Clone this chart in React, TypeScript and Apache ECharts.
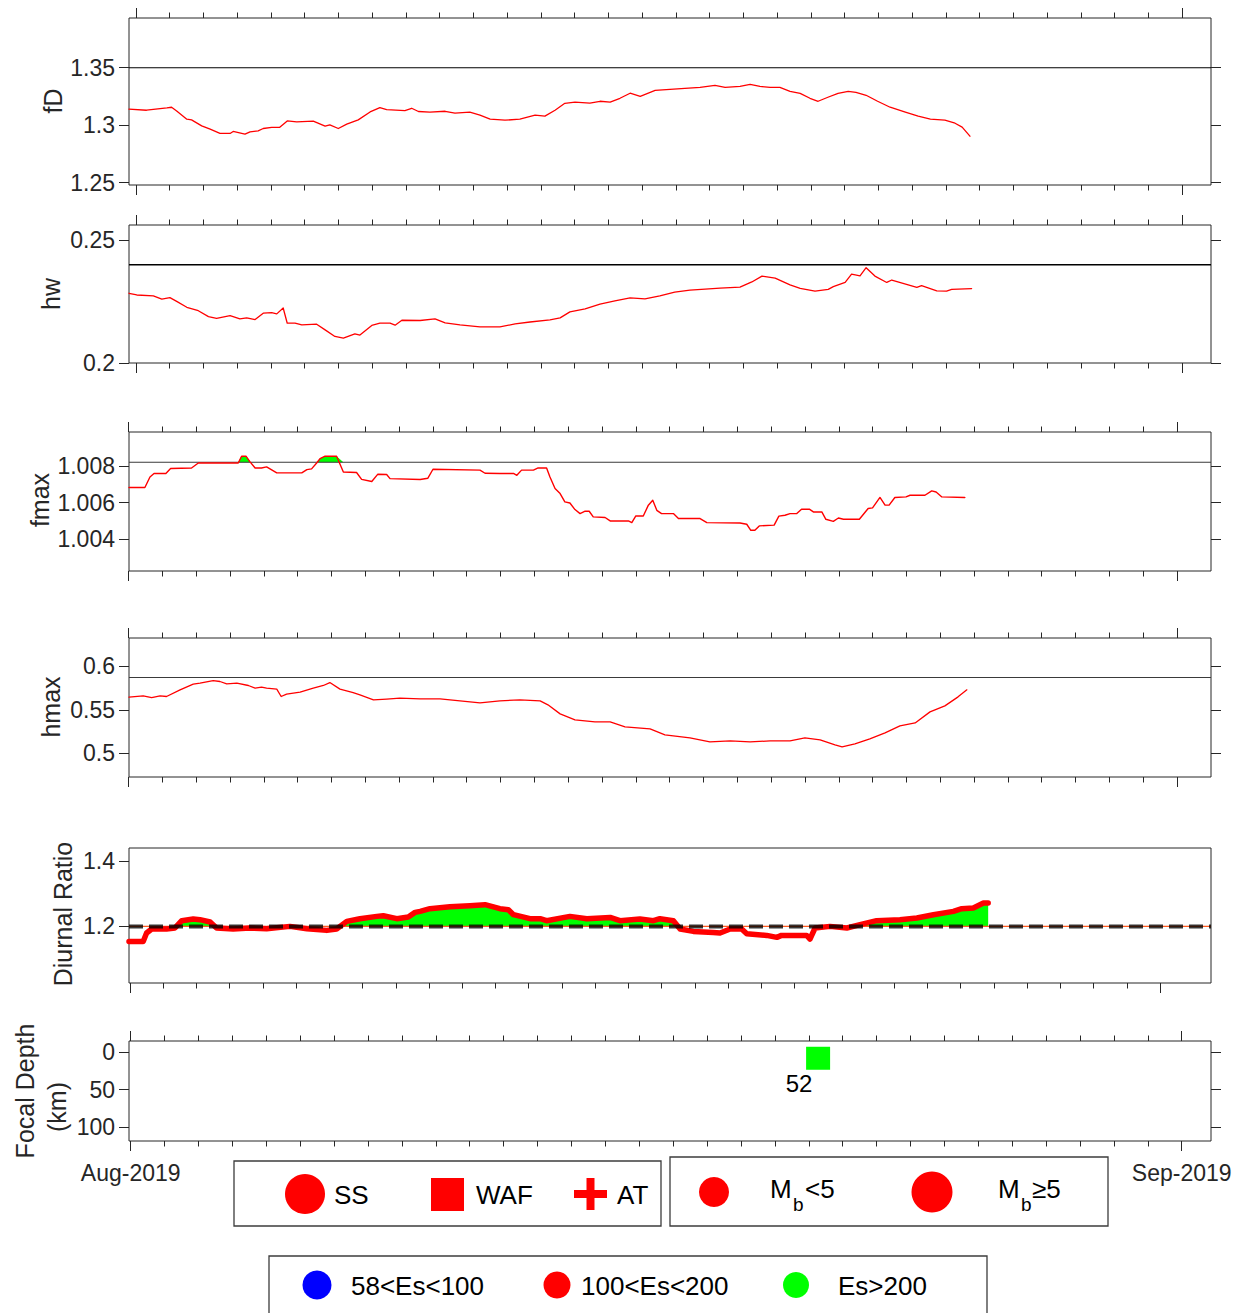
import React, { useEffect, useRef } from 'react';
import * as echarts from 'echarts';

// ---------------- data (t = days from the start of the record) ----------------
const fdData: [number, number][] = [
  [0, 1.3139], [0.52, 1.313], [1.12, 1.315], [1.26, 1.3156], [1.41, 1.3124], [1.71, 1.3052], [1.85, 1.3046],
  [2.15, 1.2994], [2.4, 1.2965], [2.69, 1.2928], [2.99, 1.2928], [3.08, 1.2945], [3.43, 1.2922], [3.58, 1.2942],
  [3.82, 1.2951], [3.97, 1.2971], [4.22, 1.298], [4.45, 1.298], [4.68, 1.3037], [4.96, 1.3029], [5.45, 1.3035],
  [5.8, 1.2991], [5.94, 1.3003], [6.19, 1.2971], [6.44, 1.3009], [6.78, 1.3046], [7.13, 1.3115], [7.42, 1.3153],
  [7.62, 1.3136], [8.16, 1.3127], [8.36, 1.3147], [8.56, 1.3119], [8.9, 1.3113], [9.35, 1.3121], [9.64, 1.3104],
  [10.08, 1.3113], [10.38, 1.3087], [10.68, 1.3052], [11.12, 1.3043], [11.56, 1.3052], [12.01, 1.3087],
  [12.3, 1.3079], [12.6, 1.313], [12.89, 1.319], [13.19, 1.32], [13.63, 1.3192], [13.93, 1.3208], [14.23, 1.32],
  [14.52, 1.3234], [14.82, 1.3278], [15.12, 1.3251], [15.56, 1.3303], [16.0, 1.3312], [16.44, 1.3321],
  [16.89, 1.3329], [17.33, 1.3347], [17.63, 1.3329], [18.07, 1.3338], [18.37, 1.3355], [18.66, 1.3338],
  [18.96, 1.3329], [19.25, 1.3329], [19.55, 1.3295], [19.85, 1.3277], [20.14, 1.3234], [20.38, 1.3208],
  [20.67, 1.3243], [20.97, 1.3277], [21.27, 1.3295], [21.5, 1.3286], [21.8, 1.326], [22.14, 1.3208],
  [22.51, 1.3156], [22.96, 1.3113], [23.34, 1.3078], [23.7, 1.3052], [24.13, 1.3043], [24.43, 1.3017],
  [24.64, 1.2983], [24.87, 1.2904],
];

const hwData: [number, number][] = [
  [0, 0.2284], [0.23, 0.2277], [0.72, 0.2273], [0.97, 0.226], [1.21, 0.2266], [1.41, 0.2251], [1.71, 0.2227],
  [2.05, 0.2213], [2.35, 0.2189], [2.59, 0.2182], [2.99, 0.2193], [3.28, 0.218], [3.48, 0.2184], [3.73, 0.2177],
  [3.97, 0.2203], [4.22, 0.2205], [4.37, 0.22], [4.56, 0.2224], [4.68, 0.2162], [4.91, 0.2162], [5.11, 0.2155],
  [5.55, 0.2158], [5.8, 0.2135], [6.09, 0.2108], [6.34, 0.2101], [6.68, 0.2119], [6.83, 0.2114], [7.18, 0.2153],
  [7.42, 0.2162], [7.72, 0.2162], [7.87, 0.2154], [8.07, 0.2174], [8.61, 0.2173], [9.05, 0.218], [9.35, 0.2163],
  [9.79, 0.2155], [10.38, 0.2147], [10.97, 0.2147], [11.42, 0.2159], [11.86, 0.2167], [12.45, 0.2176],
  [12.75, 0.2184], [13.04, 0.2208], [13.49, 0.222], [13.93, 0.224], [14.37, 0.2253], [14.82, 0.2265],
  [15.26, 0.2261], [15.7, 0.2273], [16.14, 0.2289], [16.59, 0.2297], [17.04, 0.2301], [17.48, 0.2305],
  [18.07, 0.2309], [18.42, 0.233], [18.72, 0.2354], [19.11, 0.2346], [19.55, 0.2318], [19.85, 0.2304],
  [20.29, 0.2293], [20.68, 0.23], [20.83, 0.2311], [21.18, 0.2328], [21.37, 0.2362], [21.62, 0.2355],
  [21.8, 0.2388], [22.06, 0.2354], [22.41, 0.2328], [22.56, 0.2338], [23.3, 0.2308], [23.44, 0.2315],
  [23.89, 0.2294], [24.18, 0.2293], [24.33, 0.23], [24.92, 0.2303],
];

const fmaxData: [number, number][] = [
  [0, 1.00682], [0.47, 1.00682], [0.62, 1.0074], [0.74, 1.00759], [1.09, 1.00759], [1.23, 1.00786],
  [1.85, 1.00789], [2.05, 1.00816], [3.23, 1.00816], [3.33, 1.00853], [3.46, 1.00853], [3.58, 1.00822],
  [3.73, 1.00789], [3.92, 1.00789], [4.07, 1.00795], [4.37, 1.00762], [5.11, 1.00762], [5.26, 1.0078],
  [5.4, 1.00784], [5.55, 1.00816], [5.65, 1.0084], [5.8, 1.00853], [6.14, 1.00853], [6.34, 1.00767],
  [6.73, 1.00764], [6.88, 1.00727], [7.18, 1.00715], [7.36, 1.00755], [7.62, 1.00753], [7.72, 1.00731],
  [8.61, 1.00726], [8.84, 1.00733], [8.99, 1.00782], [10.38, 1.00777], [10.53, 1.0076], [10.97, 1.00759],
  [11.37, 1.00759], [11.47, 1.00749], [11.61, 1.00777], [11.96, 1.00777], [12.1, 1.00789], [12.35, 1.00789],
  [12.45, 1.0074], [12.6, 1.00677], [12.75, 1.00649], [12.89, 1.00604], [13.04, 1.00598], [13.19, 1.00562],
  [13.34, 1.0054], [13.49, 1.00553], [13.61, 1.00553], [13.73, 1.00522], [14.08, 1.00519], [14.23, 1.005],
  [14.77, 1.005], [14.87, 1.00491], [14.99, 1.00527], [15.21, 1.00527], [15.36, 1.00586], [15.49, 1.00613],
  [15.61, 1.00558], [15.75, 1.0054], [16.1, 1.0054], [16.25, 1.00513], [16.89, 1.00513], [17.09, 1.00491],
  [18.07, 1.00489], [18.27, 1.00482], [18.39, 1.00449], [18.51, 1.00449], [18.64, 1.00473], [19.08, 1.00477],
  [19.22, 1.00526], [19.4, 1.00531], [19.55, 1.0054], [19.75, 1.0054], [19.89, 1.00564], [20.12, 1.00564],
  [20.24, 1.00549], [20.49, 1.00549], [20.61, 1.00509], [20.83, 1.00498], [20.98, 1.00516], [21.13, 1.00509],
  [21.6, 1.00509], [21.86, 1.00568], [21.99, 1.00571], [22.21, 1.00628], [22.36, 1.00586], [22.48, 1.00586],
  [22.65, 1.00628], [22.98, 1.00631], [23.1, 1.0064], [23.54, 1.0064], [23.74, 1.00664], [23.87, 1.00658],
  [24.04, 1.00631], [24.72, 1.00628],
];

const hmaxData: [number, number][] = [
  [0, 0.5647], [0.42, 0.5662], [0.67, 0.5642], [0.92, 0.5662], [1.11, 0.5654], [1.51, 0.5731], [1.9, 0.5797],
  [2.1, 0.5808], [2.49, 0.5838], [2.69, 0.5827], [2.89, 0.58], [3.19, 0.5808], [3.53, 0.5781], [3.73, 0.5751],
  [3.92, 0.5762], [4.07, 0.5751], [4.37, 0.5739], [4.5, 0.5654], [4.66, 0.5682], [5.06, 0.5705], [5.45, 0.5751],
  [5.75, 0.5781], [5.94, 0.5815], [6.24, 0.5739], [6.63, 0.57], [6.83, 0.5673], [7.23, 0.5616], [7.62, 0.5624],
  [8.01, 0.5635], [8.61, 0.5627], [9.2, 0.5627], [9.79, 0.5604], [10.38, 0.5581], [10.97, 0.5604],
  [11.56, 0.5616], [12.16, 0.5604], [12.39, 0.5558], [12.75, 0.5454], [13.19, 0.5385], [13.78, 0.5362],
  [14.23, 0.5362], [14.67, 0.5304], [15.41, 0.5281], [15.85, 0.5212], [16.59, 0.5177], [17.18, 0.5131],
  [17.78, 0.5143], [18.37, 0.5131], [18.96, 0.5143], [19.55, 0.5143], [19.99, 0.5177], [20.44, 0.5154],
  [20.88, 0.5097], [21.09, 0.5073], [21.47, 0.5108], [21.91, 0.5166], [22.36, 0.5235], [22.8, 0.5316],
  [23.25, 0.535], [23.69, 0.5477], [24.13, 0.5546], [24.52, 0.565], [24.78, 0.5731],
];

const ratioData: [number, number][] = [
  [0, 1.1538], [0.42, 1.1538], [0.52, 1.1797], [0.67, 1.192], [1.11, 1.192], [1.36, 1.1951], [1.56, 1.2175],
  [1.9, 1.2228], [2.1, 1.2206], [2.4, 1.2135], [2.59, 1.1951], [3.08, 1.192], [3.58, 1.1951], [4.07, 1.1929],
  [4.76, 1.2], [5.26, 1.1929], [5.85, 1.1877], [6.14, 1.192], [6.44, 1.2154], [6.83, 1.2237], [7.33, 1.2308],
  [7.52, 1.2329], [7.92, 1.2237], [8.26, 1.2289], [8.46, 1.2431], [8.61, 1.2462], [8.9, 1.2545], [9.49, 1.2606],
  [10.08, 1.2637], [10.53, 1.2668], [10.97, 1.2545], [11.22, 1.2514], [11.37, 1.236], [11.86, 1.2237],
  [12.16, 1.2237], [12.35, 1.2175], [13.04, 1.2308], [13.54, 1.2237], [14.23, 1.2277], [14.52, 1.2175],
  [15.11, 1.2228], [15.51, 1.2175], [15.7, 1.2237], [16.1, 1.2175], [16.3, 1.192], [16.69, 1.1846],
  [17.28, 1.1815], [17.48, 1.1797], [17.78, 1.192], [18.12, 1.192], [18.27, 1.1775], [18.86, 1.1723],
  [19.16, 1.1662], [19.3, 1.1723], [20.04, 1.1723], [20.14, 1.1612], [20.29, 1.1951], [20.73, 1.2],
  [21.23, 1.1951], [21.62, 1.2052], [22.11, 1.2175], [22.8, 1.2206], [23.3, 1.2258], [23.79, 1.236],
  [24.38, 1.2462], [24.63, 1.2545], [24.97, 1.2566], [25.27, 1.272], [25.41, 1.272],
];

// earthquake events: day, focal depth (km), annotation
const quakeDay = [20.38];
const quakeDepth = [8];
const quakeTag = ['52'];

// reference levels
const fdRef = 1.35;
const hwRef = 0.24;
const fmaxRef = 1.0082;
const hmaxRef = 0.5873;
const ratioRef = 1.2;

// tick values
const fdTicks = [1.25, 1.3, 1.35];
const hwTicks = [0.2, 0.25];
const fmaxTicks = [1.004, 1.006, 1.008];
const hmaxTicks = [0.5, 0.55, 0.6];
const ratioTicks = [1.2, 1.4];
const depthTicks = [0, 50, 100];
const monthLabels = ['Aug-2019', 'Sep-2019'];
const DAYS_IN_MONTH = 31;

// ---------------- styling / layout ----------------
const AXIS = '#262626';
const RED = '#ff0000';
const GREEN = '#00ff00';
const BLUE = '#0000ff';
const FONT = "'Liberation Sans', Arial, Helvetica, sans-serif";
const BOX_L = 129;
const BOX_R = 1211;
const T_SPAN = 32;

type Panel = {
  top: number;
  bottom: number;
  yMin: number;
  yMax: number;
  inverse?: boolean;
  ticks: number[];
  augX: number;
  sepX: number;
  topTicks: boolean;
  rightTicks: boolean;
};

const panels: Panel[] = [
  { top: 18, bottom: 185, yMin: 1.2479, yMax: 1.3933, ticks: fdTicks, augX: 136, sepX: 1182, topTicks: true, rightTicks: true },
  { top: 225, bottom: 363, yMin: 0.2, yMax: 0.2562, ticks: hwTicks, augX: 136, sepX: 1182, topTicks: true, rightTicks: true },
  { top: 432, bottom: 571, yMin: 1.00227, yMax: 1.00985, ticks: fmaxTicks, augX: 128.5, sepX: 1177, topTicks: true, rightTicks: true },
  { top: 638, bottom: 777, yMin: 0.4727, yMax: 0.6328, ticks: hmaxTicks, augX: 128.5, sepX: 1177, topTicks: true, rightTicks: true },
  { top: 848, bottom: 983, yMin: 1.0258, yMax: 1.4412, ticks: ratioTicks, augX: 130, sepX: 1160, topTicks: false, rightTicks: false },
  { top: 1041, bottom: 1141, yMin: -15.1, yMax: 118.7, inverse: true, ticks: depthTicks, augX: 130.7, sepX: 1181.7, topTicks: true, rightTicks: true },
];

const fmtTick = (v: number) => String(+v.toFixed(4));

function buildOption() {
  const grid: any[] = [];
  const xAxis: any[] = [];
  const yAxis: any[] = [];
  const refs: { xi: number; yi: number }[] = [];
  const lineStyle = { color: AXIS, width: 1 };

  panels.forEach((p, k) => {
    const gBox = grid.length;
    grid.push({
      left: BOX_L, top: p.top, width: BOX_R - BOX_L, height: p.bottom - p.top,
      show: true, borderColor: AXIS, borderWidth: 1, backgroundColor: 'transparent',
    });
    const xi = xAxis.length;
    xAxis.push({ gridIndex: gBox, type: 'value', min: 0, max: T_SPAN, show: false });
    const yi = yAxis.length;
    yAxis.push({
      gridIndex: gBox, type: 'value', position: 'left', min: p.yMin, max: p.yMax, inverse: !!p.inverse,
      axisLine: { show: false },
      axisTick: { show: true, inside: false, length: 10, lineStyle, customValues: p.ticks },
      axisLabel: { show: true, customValues: p.ticks, formatter: fmtTick, fontSize: 23, color: AXIS, fontFamily: FONT, margin: 14 },
      splitLine: { show: false },
    });
    if (p.rightTicks) {
      yAxis.push({
        gridIndex: gBox, type: 'value', position: 'right', min: p.yMin, max: p.yMax, inverse: !!p.inverse,
        axisLine: { show: false },
        axisTick: { show: true, inside: false, length: 10, lineStyle, customValues: p.ticks },
        axisLabel: { show: false },
        splitLine: { show: false },
      });
    }
    refs.push({ xi, yi });

    // day ticks of the calendar axis drawn around each box
    const gTick = grid.length;
    grid.push({ left: p.augX, top: p.top, width: p.sepX - p.augX, height: p.bottom - p.top, show: false });
    const isLast = k === panels.length - 1;
    const tickAxis = (position: string, labels: boolean) => ({
      gridIndex: gTick, type: 'value', position, min: 0, max: DAYS_IN_MONTH, interval: DAYS_IN_MONTH,
      axisLine: { show: false },
      axisTick: { show: true, length: 10, lineStyle },
      minorTick: { show: true, splitNumber: DAYS_IN_MONTH, length: 5.5, lineStyle },
      axisLabel: {
        show: labels,
        formatter: (v: number) => (v === 0 ? monthLabels[0] : v === DAYS_IN_MONTH ? monthLabels[1] : ''),
        fontSize: 23, color: AXIS, fontFamily: FONT, margin: 20,
      },
      splitLine: { show: false },
      minorSplitLine: { show: false },
    });
    xAxis.push(tickAxis('bottom', isLast));
    if (p.topTicks) xAxis.push(tickAxis('top', false));
    yAxis.push({ gridIndex: gTick, type: 'value', min: 0, max: 1, show: false });
  });

  const redLine = (k: number, data: [number, number][], width: number, z = 4) => ({
    type: 'line', xAxisIndex: refs[k].xi, yAxisIndex: refs[k].yi, data, showSymbol: false, symbol: 'none',
    lineStyle: { color: RED, width, join: 'round', cap: 'round' }, z, silent: true,
  });
  const refLine = (k: number, level: number, style: any, z = 3) => ({
    type: 'line', xAxisIndex: refs[k].xi, yAxisIndex: refs[k].yi,
    data: [[0, level], [T_SPAN, level]], showSymbol: false, symbol: 'none', lineStyle: style, z, silent: true,
  });
  const aboveFill = (k: number, data: [number, number][], level: number) => ({
    type: 'line', xAxisIndex: refs[k].xi, yAxisIndex: refs[k].yi,
    data: data.map(([t, v]) => [t, Math.max(v, level)]), showSymbol: false, symbol: 'none',
    lineStyle: { width: 0, opacity: 0 }, areaStyle: { color: GREEN, opacity: 1, origin: level }, z: 2, silent: true,
  });

  const series: any[] = [
    refLine(0, fdRef, { color: '#000', width: 1.2 }),
    redLine(0, fdData, 1.3),
    refLine(1, hwRef, { color: '#000', width: 1.5 }),
    redLine(1, hwData, 1.3),
    aboveFill(2, fmaxData, fmaxRef),
    refLine(2, fmaxRef, { color: '#3a3a3a', width: 1.2 }),
    redLine(2, fmaxData, 1.4),
    refLine(3, hmaxRef, { color: '#3a3a3a', width: 1 }),
    redLine(3, hmaxData, 1.3),
    aboveFill(4, ratioData, ratioRef),
    refLine(4, ratioRef, { color: '#ff5a1f', width: 1.3 }, 3),
    redLine(4, ratioData, 5.5, 4),
    refLine(4, ratioRef, { color: 'rgba(0,0,0,0.78)', width: 4, type: [14, 6] }, 5),
    {
      type: 'scatter', xAxisIndex: refs[5].xi, yAxisIndex: refs[5].yi,
      data: quakeDay.map((d, i) => ({ value: [d, quakeDepth[i]], tag: quakeTag[i] })),
      symbol: 'rect', symbolSize: [24, 23], itemStyle: { color: GREEN, opacity: 1 }, z: 4, silent: true,
      label: {
        show: true, position: 'inside', offset: [-19, 25], fontSize: 24, color: '#000', fontFamily: FONT,
        formatter: (p: any) => p.data.tag,
      },
    },
  ];

  const txt = (text: string, x: number, y: number, size: number, extra: any = {}) => ({
    type: 'text', x, y, silent: true, ...extra,
    style: {
      text, fill: extra.fill || '#000', fontSize: size, fontFamily: FONT,
      align: extra.align || 'left', textAlign: extra.align || 'left',
      verticalAlign: 'middle', textVerticalAlign: 'middle',
    },
  });
  const vtitle = (text: string, x: number, y: number) => ({
    ...txt(text, x, y, 25, { align: 'center', fill: AXIS }),
    rotation: Math.PI / 2,
  });
  const boxStyle = { fill: '#fff', stroke: '#3c3c3c', lineWidth: 1.3 };

  const graphic: any[] = [
    vtitle('fD', 53, 101),
    vtitle('hw', 51, 294),
    vtitle('fmax', 40, 500),
    vtitle('hmax', 51, 707),
    vtitle('Diurnal Ratio', 63, 914),
    vtitle('Focal Depth', 25, 1091),
    vtitle('(km)', 57, 1107),

    // source-type legend
    { type: 'rect', shape: { x: 234, y: 1161, width: 427, height: 65 }, style: boxStyle, silent: true },
    { type: 'circle', shape: { cx: 305, cy: 1194, r: 20 }, style: { fill: RED }, silent: true },
    txt('SS', 334, 1195, 26),
    { type: 'rect', shape: { x: 431, y: 1178, width: 33, height: 33 }, style: { fill: RED }, silent: true },
    txt('WAF', 476, 1195, 26),
    { type: 'rect', shape: { x: 574, y: 1190, width: 33, height: 8 }, style: { fill: RED }, silent: true },
    { type: 'rect', shape: { x: 586.5, y: 1178, width: 8, height: 32 }, style: { fill: RED }, silent: true },
    txt('AT', 617, 1195, 26),

    // magnitude legend
    { type: 'rect', shape: { x: 670, y: 1157, width: 438, height: 69 }, style: boxStyle, silent: true },
    { type: 'circle', shape: { cx: 714, cy: 1192, r: 15 }, style: { fill: RED }, silent: true },
    txt('M', 770, 1189, 26),
    txt('b', 793, 1204, 19),
    txt('<5', 805, 1189, 26),
    { type: 'circle', shape: { cx: 932, cy: 1192, r: 20.5 }, style: { fill: RED }, silent: true },
    txt('M', 998, 1189, 26),
    txt('b', 1021, 1204, 19),
    txt('\u22655', 1032, 1189, 26),

    // energy legend
    { type: 'rect', shape: { x: 269, y: 1256, width: 718, height: 62 }, style: boxStyle, silent: true },
    { type: 'circle', shape: { cx: 317, cy: 1285, r: 14.5 }, style: { fill: BLUE }, silent: true },
    txt('58<Es<100', 351, 1286, 26),
    { type: 'circle', shape: { cx: 557, cy: 1285, r: 13.5 }, style: { fill: RED }, silent: true },
    txt('100<Es<200', 581, 1286, 26),
    { type: 'circle', shape: { cx: 796, cy: 1285, r: 13 }, style: { fill: GREEN }, silent: true },
    txt('Es>200', 838, 1286, 26),
  ];

  return {
    animation: false,
    backgroundColor: '#fff',
    textStyle: { fontFamily: FONT },
    grid,
    xAxis,
    yAxis,
    series,
    graphic,
  };
}

export default function App() {
  const ref = useRef<HTMLDivElement>(null);
  useEffect(() => {
    if (!ref.current) return;
    const chart = echarts.init(ref.current, undefined, { renderer: 'svg' });
    chart.setOption(buildOption() as any);
    return () => chart.dispose();
  }, []);
  return (
    <div
      ref={ref}
      style={{ position: 'absolute', left: 0, top: 0, width: 1246, height: 1313, background: '#fff' }}
    />
  );
}
